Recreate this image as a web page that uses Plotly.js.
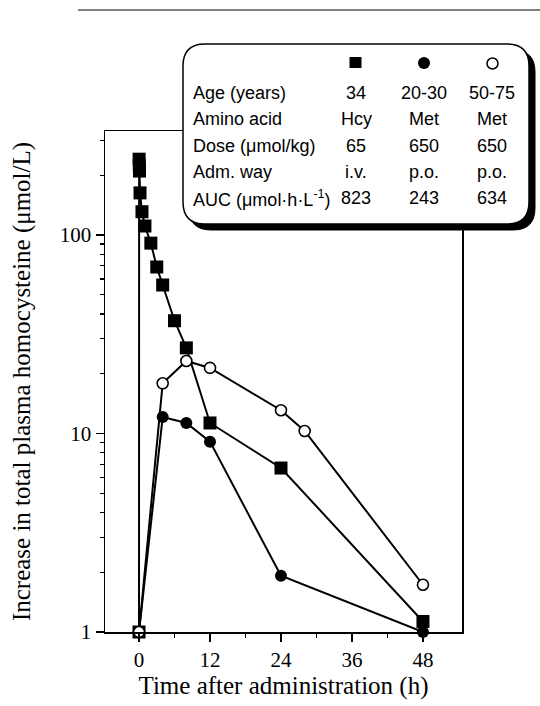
<!DOCTYPE html>
<html><head><meta charset="utf-8">
<script src="https://cdn.plot.ly/plotly-3.0.1.min.js"></script>
<style>html,body{margin:0;padding:0;background:#fff}#chart{width:540px;height:706px}</style>
</head><body><div id="chart"></div>
<script>
// ---- data ----
const hcyTime = [0, 0.02, 0.05, 0.08, 0.17, 0.5, 1, 2, 3, 4, 6, 8, 12, 24, 48];
const hcyValue = [1, 241, 225, 210, 163, 131, 111, 91, 69, 56, 37, 27, 11.3, 6.7, 1.13];
const youngTime = [0, 4, 8, 12, 24, 48];
const youngValue = [1, 12.1, 11.3, 9.1, 1.92, 1.0];
const oldTime = [0, 4, 8, 12, 24, 28, 48];
const oldValue = [1, 17.9, 23.2, 21.4, 13.1, 10.3, 1.73];
const xTicks = [0, 12, 24, 36, 48];
const xMinor = [6, 18, 30, 42];
const yTicks = [1, 10, 100];
const yTickText = ['1', '10', '100'];
const yMinor = [2, 3, 4, 5, 6, 7, 8, 9, 20, 30, 40, 50, 60, 70, 80, 90, 200, 300];
const rowLabels = ['Age (years)', 'Amino acid', 'Dose (μmol/kg)', 'Adm. way', 'AUC (μmol·h·L<sup>-1</sup>)'];
const colHcy = ['34', 'Hcy', '65', 'i.v.', '823'];
const colYoung = ['20-30', 'Met', '650', 'p.o.', '243'];
const colOld = ['50-75', 'Met', '650', 'p.o.', '634'];
const xTitle = 'Time after administration (h)';
const yTitle = 'Increase in total plasma homocysteine (μmol/L)';

// ---- layout helpers (pixel -> paper) ----
const W = 540, H = 706;
const M = {l: 105, r: 78, t: 131, b: 74};
const PW = W - M.l - M.r, PH = H - M.t - M.b;
const px = p => (p - M.l) / PW;
const py = p => (H - M.b - p) / PH;
function roundRect(x0, y0, x1, y1, r) {
  const P = (x, y) => px(x) + ',' + py(y);
  return 'M' + P(x0 + r, y0) + ' L' + P(x1 - r, y0) + ' Q' + P(x1, y0) + ' ' + P(x1, y0 + r) +
    ' L' + P(x1, y1 - r) + ' Q' + P(x1, y1) + ' ' + P(x1 - r, y1) +
    ' L' + P(x0 + r, y1) + ' Q' + P(x0, y1) + ' ' + P(x0, y1 - r) +
    ' L' + P(x0, y0 + r) + ' Q' + P(x0, y0) + ' ' + P(x0 + r, y0) + ' Z';
}

const lineStyle = {color: '#000', width: 2};
const traces = [
  {x: hcyTime, y: hcyValue, mode: 'lines+markers', line: lineStyle, cliponaxis: false,
   marker: {symbol: 'square', size: 13, color: '#000'}},
  {x: youngTime, y: youngValue, mode: 'lines+markers', line: lineStyle, cliponaxis: false,
   marker: {symbol: 'circle', size: 12, color: '#000'}},
  {x: oldTime, y: oldValue, mode: 'lines+markers', line: lineStyle, cliponaxis: false,
   marker: {symbol: 'circle', size: 11, color: '#fff', line: {color: '#000', width: 1.6}}}
];

const serif = '"Liberation Serif", "Times New Roman", serif';
const sans = '"Liberation Sans", Arial, sans-serif';

const shapes = [
  {type: 'line', xref: 'paper', yref: 'paper', x0: px(78), x1: px(540), y0: py(10), y1: py(10),
   line: {color: '#000', width: 1}, layer: 'above'},
  {type: 'path', xref: 'paper', yref: 'paper', path: roundRect(189, 50, 535, 230, 22),
   fillcolor: '#000', line: {color: '#000', width: 1}, layer: 'above'},
  {type: 'path', xref: 'paper', yref: 'paper', path: roundRect(183, 44, 529, 224, 22),
   fillcolor: '#fff', line: {color: '#000', width: 1.5}, layer: 'above'},
  {type: 'rect', xref: 'paper', yref: 'paper', x0: px(349.5), x1: px(361.5), y0: py(57), y1: py(68),
   fillcolor: '#000', line: {width: 0}, layer: 'above'},
  {type: 'circle', xref: 'paper', yref: 'paper', x0: px(418), x1: px(430), y0: py(57), y1: py(69),
   fillcolor: '#000', line: {width: 0}, layer: 'above'},
  {type: 'circle', xref: 'paper', yref: 'paper', x0: px(487), x1: px(498), y0: py(58), y1: py(69),
   fillcolor: '#fff', line: {color: '#000', width: 1.5}, layer: 'above'}
];

const rowY = [93, 119, 146, 172, 198];
const colX = [356, 424, 492];
const annotations = [];
rowLabels.forEach((t, i) => {
  annotations.push({xref: 'paper', yref: 'paper', x: px(191), y: py(rowY[i]), text: t,
    xanchor: 'left', yanchor: 'middle', showarrow: false, font: {family: sans, size: 18, color: '#000'}});
  [colHcy, colYoung, colOld].forEach((col, j) => {
    annotations.push({xref: 'paper', yref: 'paper', x: px(colX[j]), y: py(rowY[i]), text: col[i],
      xanchor: 'center', yanchor: 'middle', showarrow: false, font: {family: sans, size: 18, color: '#000'}});
  });
});

const layout = {
  width: W, height: H, margin: M, showlegend: false,
  paper_bgcolor: '#fff', plot_bgcolor: '#fff',
  xaxis: {range: [-5.75, 54.6], tickvals: xTicks, ticks: 'outside', ticklen: 8, tickwidth: 1.5,
    tickcolor: '#000', showline: true, mirror: true, linecolor: '#000', linewidth: 1.5,
    showgrid: false, zeroline: false,
    minor: {tickvals: xMinor, ticks: 'outside', ticklen: 4, tickwidth: 1.2, tickcolor: '#000'},
    tickfont: {family: serif, size: 21, color: '#000'},
    title: {text: xTitle, font: {family: serif, size: 25, color: '#000'}, standoff: 3}},
  yaxis: {type: 'log', range: [0, 2.524], tickvals: yTicks, ticktext: yTickText, ticks: 'outside',
    ticklen: 8, tickwidth: 1.5, tickcolor: '#000', showline: true, mirror: true, linecolor: '#000',
    linewidth: 1.5, showgrid: false, zeroline: false,
    minor: {tickvals: yMinor, ticks: 'outside', ticklen: 4, tickwidth: 1.2, tickcolor: '#000'},
    tickfont: {family: serif, size: 21, color: '#000'},
    title: {text: yTitle, font: {family: serif, size: 25, color: '#000'}, standoff: 22}},
  shapes: shapes, annotations: annotations
};

Plotly.newPlot('chart', traces, layout, {displayModeBar: false, staticPlot: true});
</script></body></html>
